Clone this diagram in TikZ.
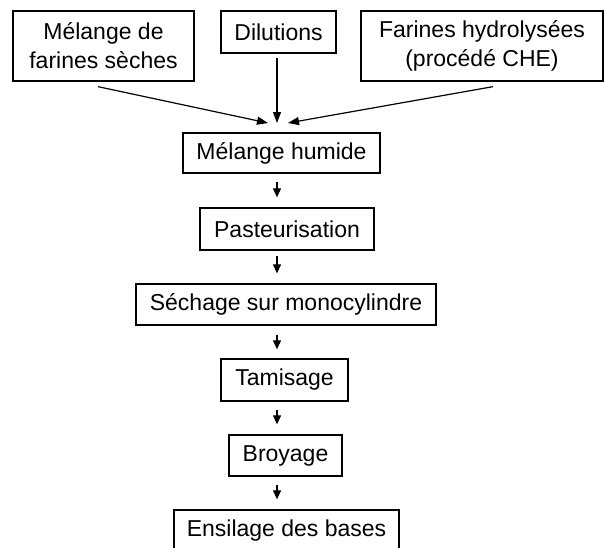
\documentclass[tikz,border=0pt]{standalone}
\usepackage{fontspec}
\setmainfont{Liberation Sans}
\usetikzlibrary{arrows.meta}
\begin{document}
\begin{tikzpicture}[x=1pt,y=-1pt,
  box/.style={draw, line width=1.3pt, inner sep=0pt, align=center, font=\fontsize{23}{29}\selectfont},
  arr/.style={line width=1.2pt, -{Triangle[length=9pt,width=8pt]}},
  bigarr/.style={line width=1.2pt, -{Triangle[length=11pt,width=8pt]}}]
\useasboundingbox (0,0) rectangle (604,547);
\node[box, minimum width=181pt, minimum height=70pt] (b1) at (103.5,46) {Mélange de\\farines sèches};
\node[box, minimum width=115pt, minimum height=42pt] (b2) at (278.5,32) {Dilutions};
\node[box, minimum width=242pt, minimum height=70pt] (b3) at (482,46) {Farines hydrolysées\\(procédé CHE)};
\node[box, minimum width=197pt, minimum height=40pt] (m) at (281.5,153) {Mélange humide};
\node[box, minimum width=174pt, minimum height=42pt] (p) at (287,229) {Pasteurisation};
\node[box, minimum width=300pt, minimum height=41pt] (s) at (286,304.5) {Séchage sur monocylindre};
\node[box, minimum width=127pt, minimum height=42pt] (t) at (284.5,380) {Tamisage};
\node[box, minimum width=113pt, minimum height=41pt] (br) at (285.5,455.5) {Broyage};
\node[box, minimum width=225pt, minimum height=41pt] (e) at (286.5,530.5) {Ensilage des bases};
\coordinate (ax) at (277,0);
\coordinate (j1) at (268,123);
\coordinate (j2) at (277,123);
\coordinate (j3) at (288,123);
\draw[bigarr] ([xshift=-5.5pt,yshift=-5pt]b1.south) -- (j1);
\draw[bigarr] ([xshift=-1.5pt,yshift=-4pt]b2.south) -- (j2);
\draw[bigarr] ([xshift=11pt,yshift=-5pt]b3.south) -- (j3);
\draw[arr, shorten <=8pt, shorten >=10pt] (m.south -| ax) -- (p.north -| ax);
\draw[arr, shorten <=5pt, shorten >=10pt] (p.south -| ax) -- (s.north -| ax);
\draw[arr, shorten <=9pt, shorten >=9pt] (s.south -| ax) -- (t.north -| ax);
\draw[arr, shorten <=8pt, shorten >=10pt] (t.south -| ax) -- (br.north -| ax);
\draw[arr, shorten <=8pt, shorten >=10pt] (br.south -| ax) -- (e.north -| ax);
\end{tikzpicture}
\end{document}
